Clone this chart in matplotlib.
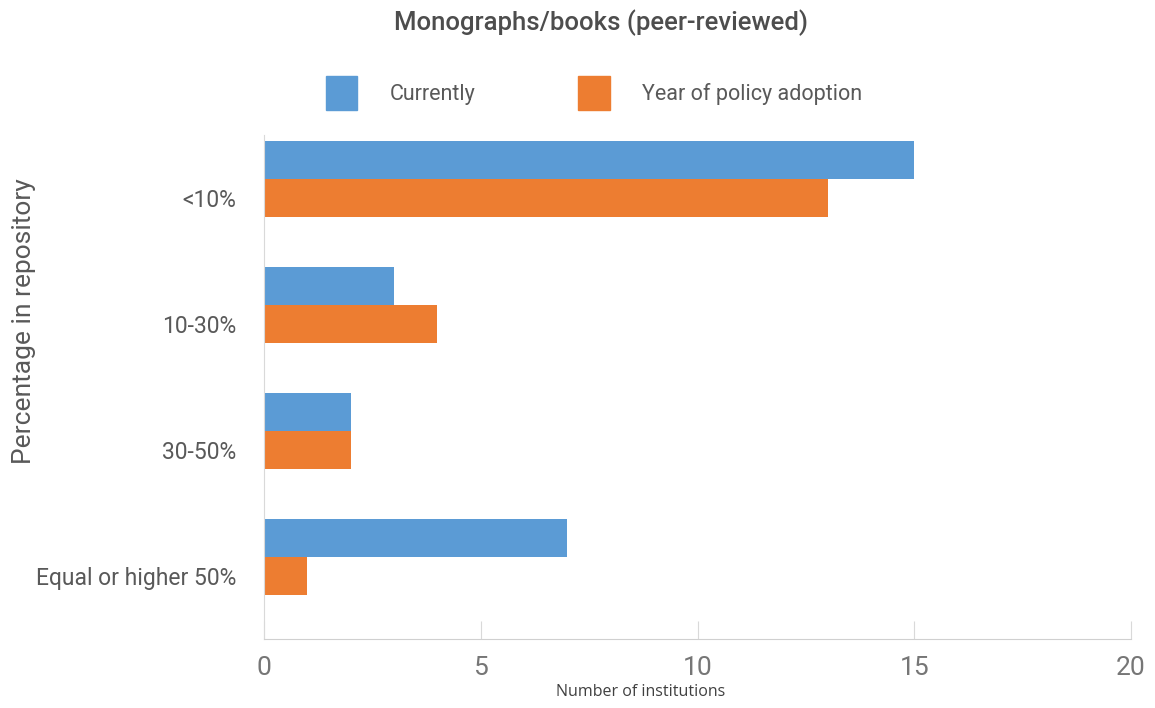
import matplotlib
matplotlib.use("Agg")
import matplotlib.pyplot as plt
import numpy as np
from matplotlib.patches import Patch

categories = ["<10%", "10-30%", "30-50%", "Equal or higher 50%"]
currently = [15, 3, 2, 7]
policy_year = [13, 4, 2, 1]
xticks = [0, 5, 10, 15, 20]

BLUE = "#5B9BD5"
ORANGE = "#ED7D31"

plt.rcParams['font.family'] = ['Roboto', 'DejaVu Sans']

fig = plt.figure(figsize=(11.55, 7.08), dpi=100)
ax = fig.add_axes([264/1155, 69/708, 867/1155, 504/708])

y = np.arange(len(categories))
h = 0.3
ax.barh(y - h, currently, height=h, color=BLUE, label="Currently")
ax.barh(y, policy_year, height=h, color=ORANGE, label="Year of policy adoption")

ax.set_ylim(len(categories) - 0.5, -0.5)
ax.set_xlim(0, 20)
ax.set_xticks(xticks)
ax.set_xticklabels([str(t) for t in xticks])
ax.set_yticks(y)
ax.set_yticklabels(categories)

for s in ["top", "right"]:
    ax.spines[s].set_visible(False)
ax.spines["left"].set_color("#d9d9d9")
ax.spines["bottom"].set_color("#d0d0d0")
ax.tick_params(axis="x", direction="in", length=13, color="#d9d9d9", pad=12,
               labelsize=19, labelcolor="#767676")
ax.tick_params(axis="y", length=0, pad=20, labelsize=16.5, labelcolor="#595959")

ax.set_ylabel("Percentage in repository", fontsize=19, color="#595959")
ax.yaxis.set_label_coords(-0.263, 0.631)
ax.set_xlabel("Number of institutions", fontsize=11.5, color="#404040",
              family=["Open Sans", "DejaVu Sans"])
ax.xaxis.set_label_coords((641 - 264) / 867, -(692 - 639) / 504)
ax.xaxis.label.set_va("center")

fig.text(601/1155, 1 - 23/708, "Monographs/books (peer-reviewed)", ha="center", va="center",
         fontsize=18.5, color="#4d4d4d", fontweight="medium")

handles = [Patch(color=BLUE), Patch(color=ORANGE)]
leg = fig.legend(handles, ["Currently", "Year of policy adoption"], loc="center",
                 bbox_to_anchor=(594/1155, 1 - 93/708), ncol=2, frameon=False,
                 fontsize=15.5, handlelength=1.45, handleheight=2.0, handletextpad=1.5,
                 columnspacing=4.8, labelcolor="#595959")

fig.savefig("out.png", dpi=100)
